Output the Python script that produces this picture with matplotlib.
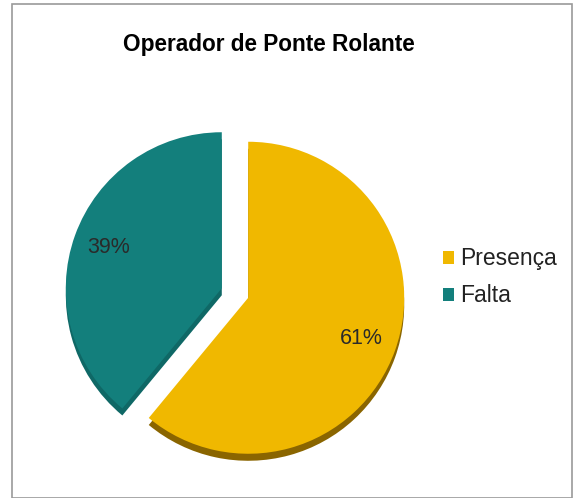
import matplotlib.pyplot as plt
from matplotlib.patches import Rectangle

plt.rcParams['font.family'] = ['Liberation Sans', 'DejaVu Sans']

labels = ["Presença", "Falta"]
values = [61, 39]
colors = ["#F0B800", "#137F7C"]
edge_colors = ["#8A6500", "#0F6866"]

fig = plt.figure(figsize=(5.75, 4.98), dpi=100)

# frame around the chart
fig.patches.append(Rectangle((12 / 575, 0), 560 / 575, 494 / 498, transform=fig.transFigure,
                             fill=False, edgecolor="#9A9A9A", linewidth=1.2))

fig.text(0.467, 0.91, "Operador de Ponte Rolante", ha="center", va="center",
         fontsize=16.3, fontweight="bold", color="black")

ax = fig.add_axes([0.056, 0.0044, 0.7054, 0.8145])

explode = [0.09, 0.09]

# darker copy underneath for the 3D rim
ax.pie(values, colors=edge_colors, startangle=90, counterclock=False,
       explode=explode, center=(0, -0.045), wedgeprops=dict(linewidth=0))

wedges, texts, autotexts = ax.pie(values, colors=colors, startangle=90, counterclock=False,
                                  explode=explode, autopct="%1.0f%%", pctdistance=0.77,
                                  wedgeprops=dict(linewidth=0),
                                  textprops=dict(fontsize=15.5, color="#2A2A2A"))

ax.set_xlim(-1.3, 1.3)
ax.set_ylim(-1.3, 1.3)

leg = fig.legend(wedges, labels, loc="center left", bbox_to_anchor=(0.734, 0.443),
                 frameon=False, fontsize=16.5, handlelength=0.5, handleheight=0.5,
                 handletextpad=0.25, labelspacing=0.62)
for t in leg.get_texts():
    t.set_color("#222222")

fig.savefig("out.png", dpi=100)
